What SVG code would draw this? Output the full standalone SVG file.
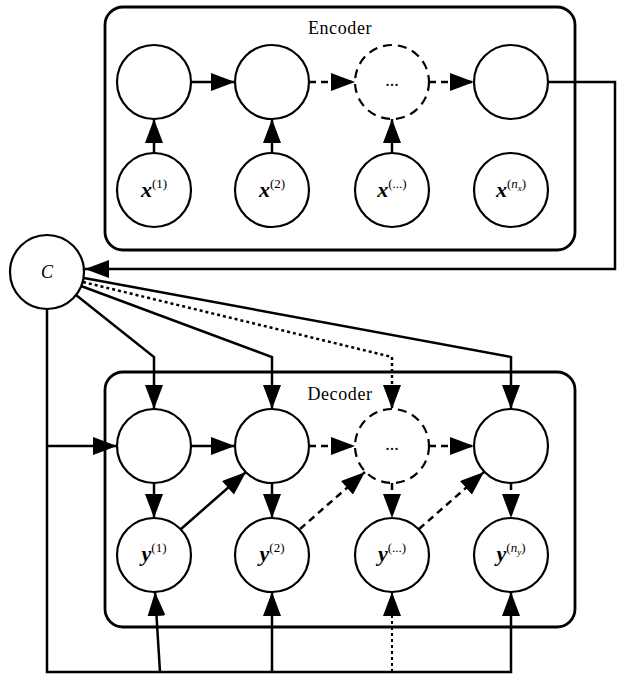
<svg xmlns="http://www.w3.org/2000/svg" width="622" height="681" viewBox="0 0 622 681">
<style>
.box{fill:none;stroke:#000;stroke-width:2.8}
.nd{fill:#fff;stroke:#000;stroke-width:2.2}
.dn{fill:#fff;stroke:#000;stroke-width:2.2;stroke-dasharray:9 6}
.ln{fill:none;stroke:#000;stroke-width:2.5}
.da{stroke-dasharray:7 5}
.dt{stroke-dasharray:3 3}
.dt2{stroke-width:2;stroke-dasharray:3 3}
.lbl{font-family:"Liberation Serif","DejaVu Serif",serif;font-size:18px;fill:#000}
.m{font-family:"Liberation Serif","DejaVu Serif",serif;font-size:22px;fill:#000;font-weight:bold;font-style:italic}
.s{font-size:13px;font-weight:normal;font-style:normal}
.si{font-size:13px;font-weight:normal;font-style:italic}
.ss{font-size:9px;font-weight:normal;font-style:italic}
</style>
<defs>
<marker id="ah" viewBox="0 0 24 18" refX="24" refY="9" markerWidth="24" markerHeight="18" markerUnits="userSpaceOnUse" orient="auto">
<path d="M0,0 L24,9 L0,18 z" fill="#000"/>
</marker>
</defs>

<g id="encoder">
<rect class="box" x="105" y="7" width="470" height="243" rx="18"/>
<text class="lbl" x="340" y="34" text-anchor="middle" letter-spacing="0.6">Encoder</text>
</g>
<g id="decoder">
<rect class="box" x="105" y="372" width="470" height="255" rx="18"/>
<text class="lbl" x="340" y="400" text-anchor="middle" letter-spacing="0.6">Decoder</text>
</g>

<g id="connectors">
<!-- encoder -->
<line class="ln" x1="191" y1="82" x2="235" y2="82" marker-end="url(#ah)"/>
<line class="ln da" x1="309" y1="82" x2="355" y2="82" marker-end="url(#ah)"/>
<line class="ln da" x1="429" y1="82" x2="474" y2="82" marker-end="url(#ah)"/>
<line class="ln" x1="154" y1="153" x2="154" y2="119" marker-end="url(#ah)"/>
<line class="ln" x1="272" y1="153" x2="272" y2="119" marker-end="url(#ah)"/>
<line class="ln" x1="392" y1="153" x2="392" y2="119" marker-end="url(#ah)"/>
<polyline class="ln" points="548,82 615,82 615,269 85,269" marker-end="url(#ah)"/>
<!-- C to decoder -->
<polyline class="ln" points="76,295 154,357 154,409" marker-end="url(#ah)"/>
<polyline class="ln" points="81,286 272,357 272,409" marker-end="url(#ah)"/>
<polyline class="ln dt" points="83,282 392,357 392,409" marker-end="url(#ah)"/>
<polyline class="ln" points="84,278 511,357 511,409" marker-end="url(#ah)"/>
<polyline class="ln" points="47,309 47,672 511,672 511,592" marker-end="url(#ah)"/>
<line class="ln" x1="47" y1="446" x2="117" y2="446" marker-end="url(#ah)"/>
<line class="ln" x1="160" y1="672" x2="155" y2="592" marker-end="url(#ah)"/>
<line class="ln" x1="272" y1="672" x2="272" y2="592" marker-end="url(#ah)"/>
<line class="ln dt2" x1="392" y1="672" x2="392" y2="592" marker-end="url(#ah)"/>
<!-- decoder -->
<line class="ln" x1="191" y1="446" x2="235" y2="446" marker-end="url(#ah)"/>
<line class="ln da" x1="309" y1="446" x2="355" y2="446" marker-end="url(#ah)"/>
<line class="ln da" x1="429" y1="446" x2="474" y2="446" marker-end="url(#ah)"/>
<line class="ln" x1="154" y1="483" x2="154" y2="518" marker-end="url(#ah)"/>
<line class="ln" x1="272" y1="483" x2="272" y2="518" marker-end="url(#ah)"/>
<line class="ln da" x1="392" y1="483" x2="392" y2="518" marker-end="url(#ah)"/>
<line class="ln da" x1="511" y1="483" x2="511" y2="518" marker-end="url(#ah)"/>
<line class="ln" x1="181" y1="529" x2="246" y2="472" marker-end="url(#ah)"/>
<line class="ln da" x1="300" y1="529" x2="365" y2="472" marker-end="url(#ah)"/>
<line class="ln da" x1="419" y1="529" x2="484" y2="472" marker-end="url(#ah)"/>
</g>

<g id="C"><circle class="nd" cx="47" cy="272" r="37"/><text x="47" y="278" text-anchor="middle" font-family="Liberation Serif,serif" font-style="italic" font-size="18">C</text></g>

<g id="e1"><circle class="nd" cx="154" cy="82" r="37"/></g>
<g id="e2"><circle class="nd" cx="272" cy="82" r="37"/></g>
<g id="e3"><circle class="dn" cx="392" cy="82" r="37"/><text class="lbl" x="392" y="86" text-anchor="middle" font-size="13">...</text></g>
<g id="e4"><circle class="nd" cx="511" cy="82" r="37"/></g>

<g id="x1"><circle class="nd" cx="154" cy="190" r="37"/><text class="m" x="154" y="197" text-anchor="middle">x<tspan class="s" dy="-9">(1)</tspan></text></g>
<g id="x2"><circle class="nd" cx="272" cy="190" r="37"/><text class="m" x="272" y="197" text-anchor="middle">x<tspan class="s" dy="-9">(2)</tspan></text></g>
<g id="x3"><circle class="nd" cx="392" cy="190" r="37"/><text class="m" x="392" y="197" text-anchor="middle">x<tspan class="s" dy="-9">(...)</tspan></text></g>
<g id="x4"><circle class="nd" cx="511" cy="190" r="37"/><text class="m" x="511" y="197" text-anchor="middle">x<tspan class="s" dy="-9">(</tspan><tspan class="si">n</tspan><tspan class="ss" dy="3">x</tspan><tspan class="s" dy="-3">)</tspan></text></g>

<g id="d1"><circle class="nd" cx="154" cy="446" r="37"/></g>
<g id="d2"><circle class="nd" cx="272" cy="446" r="37"/></g>
<g id="d3"><circle class="dn" cx="392" cy="446" r="37"/><text class="lbl" x="392" y="450" text-anchor="middle" font-size="13">...</text></g>
<g id="d4"><circle class="nd" cx="511" cy="446" r="37"/></g>

<g id="y1"><circle class="nd" cx="154" cy="555" r="37"/><text class="m" x="154" y="561" text-anchor="middle">y<tspan class="s" dy="-9">(1)</tspan></text></g>
<g id="y2"><circle class="nd" cx="272" cy="555" r="37"/><text class="m" x="272" y="561" text-anchor="middle">y<tspan class="s" dy="-9">(2)</tspan></text></g>
<g id="y3"><circle class="nd" cx="392" cy="555" r="37"/><text class="m" x="392" y="561" text-anchor="middle">y<tspan class="s" dy="-9">(...)</tspan></text></g>
<g id="y4"><circle class="nd" cx="511" cy="555" r="37"/><text class="m" x="511" y="561" text-anchor="middle">y<tspan class="s" dy="-9">(</tspan><tspan class="si">n</tspan><tspan class="ss" dy="3">y</tspan><tspan class="s" dy="-3">)</tspan></text></g>
</svg>
